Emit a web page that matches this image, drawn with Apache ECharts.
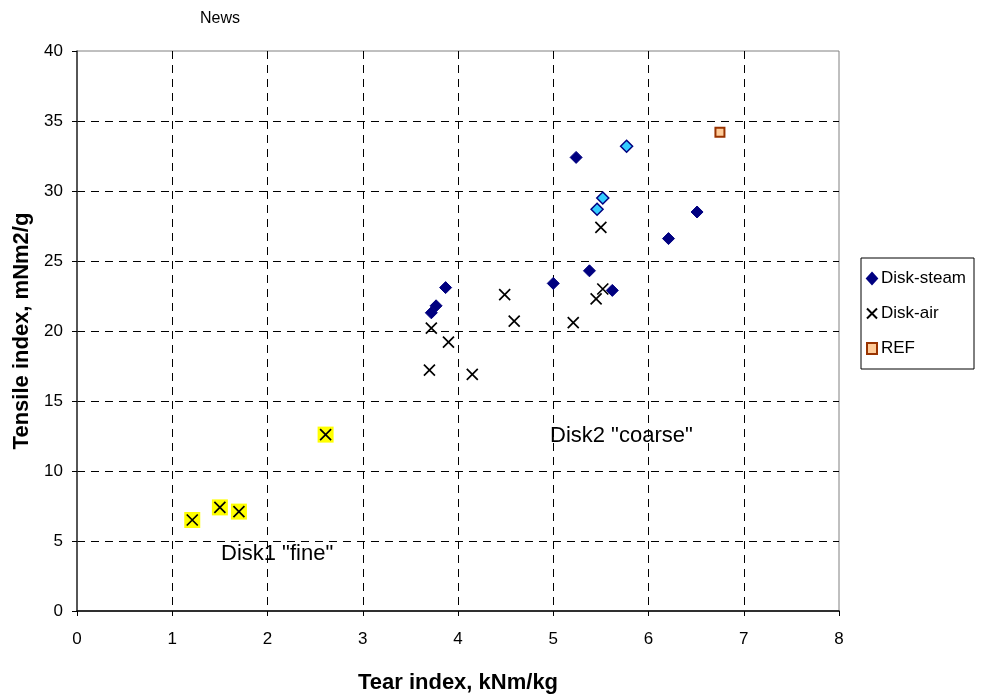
<!DOCTYPE html>
<html>
<head>
<meta charset="utf-8">
<script src="https://cdn.jsdelivr.net/npm/echarts@6/dist/echarts.min.js"></script>
<style>
  html, body { margin: 0; padding: 0; background: #fff; }
  #main { width: 983px; height: 700px; }
</style>
</head>
<body>
<div id="main"></div>
<script>
// tear index (x), tensile index (y)
var steamPoints = [
  [5.24, 32.4], [6.21, 26.6], [6.51, 28.5], [3.87, 23.1], [5.00, 23.4],
  [5.38, 24.3], [5.62, 22.9], [3.72, 21.3], [3.77, 21.8]
];
var steamLightPoints = [[5.77, 33.2], [5.52, 29.5], [5.46, 28.7]];
var airPoints = [
  [5.50, 27.4], [4.49, 22.6], [4.59, 20.7], [5.21, 20.6], [5.52, 23.0],
  [5.45, 22.3], [3.72, 20.2], [3.90, 19.2], [3.70, 17.2], [4.15, 16.9],
  [1.21, 6.5], [1.50, 7.4], [1.70, 7.1], [2.61, 12.6]
];
var finePoints = [[1.21, 6.5], [1.50, 7.4], [1.70, 7.1], [2.61, 12.6]];
var refPoints = [[6.75, 34.2]];
var legendNames = ["Disk-steam", "Disk-air", "REF"];

var font = "Liberation Sans, Arial, sans-serif";
var crossPath = "path://M0,0L10,10M10,0L0,10";

var steamData = steamPoints.map(function (p) { return p; }).concat(
  steamLightPoints.map(function (p) {
    return { value: p, itemStyle: { color: "#33CCFF", borderColor: "#000080", borderWidth: 1.5 } };
  })
);

var myChart = echarts.init(document.getElementById("main"));
myChart.setOption({
  backgroundColor: "#fff",
  animation: false,
  title: {
    text: "News",
    left: 195,
    top: 6,
    textStyle: { fontFamily: font, fontSize: 16, fontWeight: "normal", color: "#000" }
  },
  legend: {
    data: legendNames,
    orient: "vertical",
    left: 861,
    top: 258,
    padding: [12, 8, 12, 5],
    itemGap: 18,
    itemWidth: 10,
    itemHeight: 11,
    borderColor: "#000",
    borderWidth: 1,
    textStyle: { fontFamily: font, fontSize: 17, color: "#000", padding: [0, 0, 0, -1] }
  },
  grid: {
    left: 77,
    top: 51,
    right: 144,
    bottom: 89,
    show: true,
    borderColor: "#808080",
    borderWidth: 1
  },
  xAxis: {
    type: "value",
    min: 0,
    max: 8,
    interval: 1,
    name: "Tear index, kNm/kg",
    nameLocation: "middle",
    nameGap: 61,
    nameTextStyle: { fontFamily: font, fontSize: 22, fontWeight: "bold", color: "#000" },
    axisLine: { show: true, onZero: false, lineStyle: { color: "#000", width: 1.5 } },
    axisTick: { show: true, inside: false, length: 5, lineStyle: { color: "#000" } },
    axisLabel: { margin: 20, fontFamily: font, fontSize: 17, color: "#000" },
    splitLine: {
      show: true,
      showMinLine: false,
      showMaxLine: false,
      lineStyle: { color: "#000", width: 1, type: [8, 6] }
    }
  },
  yAxis: {
    type: "value",
    min: 0,
    max: 40,
    interval: 5,
    name: "Tensile index, mNm2/g",
    nameLocation: "middle",
    nameGap: 44,
    nameTextStyle: { fontFamily: font, fontSize: 22, fontWeight: "bold", color: "#000" },
    axisLine: { show: true, onZero: false, lineStyle: { color: "#333", width: 1.5 } },
    axisTick: { show: true, inside: false, length: 5, lineStyle: { color: "#000" } },
    axisLabel: { margin: 14, fontFamily: font, fontSize: 17, color: "#000" },
    splitLine: {
      show: true,
      showMinLine: false,
      showMaxLine: false,
      lineStyle: { color: "#000", width: 1, type: [8, 6] }
    }
  },
  graphic: [
    {
      type: "text",
      left: 550,
      top: 425,
      style: { text: 'Disk2 "coarse"', fontFamily: font, fontSize: 22, fill: "#000" }
    },
    {
      type: "text",
      left: 221,
      top: 543,
      style: { text: 'Disk1 "fine"', fontFamily: font, fontSize: 22, fill: "#000" }
    }
  ],
  series: [
    {
      name: "fine",
      type: "scatter",
      symbol: "rect",
      symbolSize: 16,
      z: 1,
      itemStyle: { color: "#FFFF00", opacity: 1 },
      data: finePoints
    },
    {
      name: "Disk-steam",
      type: "scatter",
      symbol: "diamond",
      symbolSize: 12,
      z: 3,
      itemStyle: { color: "#000080", borderColor: "#000080", borderWidth: 1, opacity: 1 },
      data: steamData
    },
    {
      name: "Disk-air",
      type: "scatter",
      symbol: crossPath,
      symbolSize: 11,
      z: 2,
      itemStyle: { color: "#000", borderColor: "#000", borderWidth: 1.7, opacity: 1 },
      data: airPoints
    },
    {
      name: "REF",
      type: "scatter",
      symbol: "rect",
      symbolSize: 9,
      z: 3,
      itemStyle: { color: "#FFCC99", borderColor: "#993300", borderWidth: 2, opacity: 1 },
      data: refPoints
    }
  ]
});
</script>
</body>
</html>
